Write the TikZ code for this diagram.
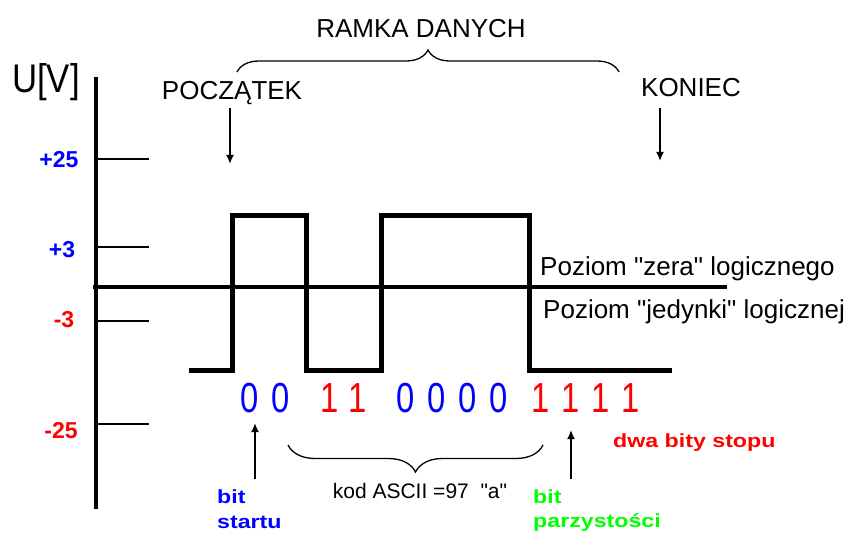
\documentclass[tikz,border=0pt]{standalone}
\usepackage{fontspec}
\setmainfont{Liberation Sans}[Ligatures=TeXOff]
\usetikzlibrary{arrows.meta,decorations.pathreplacing}
\definecolor{lblue}{RGB}{0,0,255}
\definecolor{lred}{RGB}{255,0,0}
\definecolor{lgreen}{RGB}{0,255,0}
\newcommand\digbox[1]{\scalebox{0.78}[1]{\fontsize{42}{42}\selectfont #1}}
\newcommand\boldlbl[1]{\scalebox{1.22}[1]{\fontsize{19}{19}\selectfont\bfseries #1}}
\begin{document}
\begin{tikzpicture}[x=1pt,y=-1pt,
  txt/.style={inner sep=0pt, anchor=base, font=\fontsize{26}{26}\selectfont},
  axlbl/.style={inner sep=0pt, anchor=base, font=\fontsize{23}{23}\selectfont\bfseries},
  digit/.style={inner sep=0pt, anchor=base},
  blbl/.style={inner sep=0pt, anchor=base west},
  axisline/.style={line width=3.5pt},
  tickline/.style={line width=2pt},
  wave/.style={line width=5pt, line join=miter},
  zeroline/.style={line width=3.5pt},
  pointer/.style={line width=1.8pt, -{Latex[length=9pt,width=8pt]}},
  bracestyle/.style={line width=1.3pt, decorate}
]
\useasboundingbox (0,0) rectangle (864,534);

% axis
\coordinate (axb) at (96,509);
\coordinate (axt) at (96,77);
\draw[axisline] (axb) -- (axt);
\node[inner sep=0pt, anchor=base, font=\fontsize{40}{40}\selectfont] (uv) at (46,93) {\scalebox{0.87}[1]{U[V]}};

% ticks
\foreach \nm/\yy in {t25/159, t3/247, tm3/321, tm25/424}{
  \coordinate (\nm a) at (96,\yy);
  \coordinate (\nm b) at (149,\yy);
  \draw[tickline] (\nm a) -- (\nm b);
}
\node[axlbl, text=lblue] (l25) at (59,168) {+25};
\node[axlbl, text=lblue] (l3) at (62,258) {+3};
\node[axlbl, text=lred] (lm3) at (64,327) {-3};
\node[axlbl, text=lred] (lm25) at (61,438) {-25};

% zero level line
\coordinate (z1) at (93,287);
\coordinate (z2) at (727,287);
\draw[zeroline] (z1) -- (z2);

% waveform
\draw[wave] (189,370) -- (232,370) -- (232,216) -- (306,216) -- (306,370)
  -- (381,370) -- (381,216) -- (529,216) -- (529,370) -- (672,370);

% level texts
\node[txt, anchor=base west] (zera) at (540,276) {Poziom "zera" logicznego};
\node[txt, anchor=base west] (jed) at (543,319) {Poziom "jedynki" logicznej};

% frame labels
\node[txt] (ramka) at (421,38) {RAMKA DANYCH};
\node[txt] (pocz) at (232,100) {POCZĄTEK};
\node[txt] (kon) at (691,97) {KONIEC};

\coordinate (bl) at (237,72);
\coordinate (br) at (619,72);
\draw[bracestyle, decoration={brace, amplitude=22pt}] (bl) -- (br);

\coordinate (pa) at (230,108);
\coordinate (pb) at (230,164);
\draw[pointer] (pa) -- (pb);
\coordinate (ka) at (660,108);
\coordinate (kb) at (660,161);
\draw[pointer] (ka) -- (kb);

% bits
\foreach \nm/\xx/\d/\c in {d1/250/0/lblue, d2/281/0/lblue, d3/330/1/lred, d4/358/1/lred,
  d5/406/0/lblue, d6/437/0/lblue, d7/468/0/lblue, d8/499/0/lblue,
  d9/541/1/lred, d10/571/1/lred, d11/601/1/lred, d12/631/1/lred}{
  \node[digit, text=\c] (\nm) at (\xx,412) {\digbox{\d}};
}

% bottom brace
\coordinate (cl) at (288,445);
\coordinate (cr) at (543,445);
\draw[bracestyle, decoration={brace, mirror, amplitude=27pt}] (cl) -- (cr);
\node[inner sep=0pt, anchor=base, font=\fontsize{21}{21}\selectfont] (ascii) at (420,498) {kod ASCII =97\ \ "a"};

% start bit
\coordinate (sa) at (255,479);
\coordinate (sb) at (255,423);
\draw[pointer] (sa) -- (sb);
\node[blbl, text=lblue] (bit1) at (217,503) {\boldlbl{bit}};
\node[blbl, text=lblue] (start) at (217,528) {\boldlbl{startu}};

% parity bit
\coordinate (qa) at (571,479);
\coordinate (qb) at (571,430);
\draw[pointer] (qa) -- (qb);
\node[blbl, text=lgreen] (bit2) at (533,503) {\boldlbl{bit}};
\node[blbl, text=lgreen] (parz) at (533,527) {\boldlbl{parzystości}};

% stop bits
\node[blbl, text=lred] (stop) at (613,447) {\boldlbl{dwa bity stopu}};
\end{tikzpicture}
\end{document}
